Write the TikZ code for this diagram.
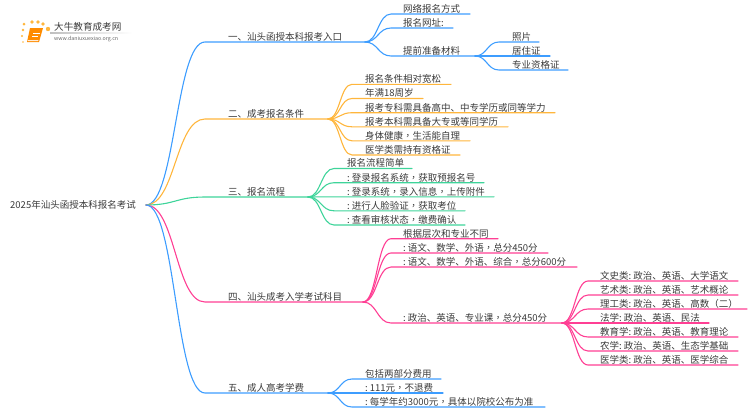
\documentclass[tikz,border=0pt]{standalone}
\usepackage{fontspec}
\setmainfont{Noto Sans CJK SC}
\newfontfamily\tcfont{Noto Sans CJK TC}
\usetikzlibrary{calc}
\definecolor{cblue}{HTML}{3D9DFF}
\definecolor{corange}{HTML}{FFB63C}
\definecolor{cgreen}{HTML}{3ED49A}
\definecolor{cpink}{HTML}{FF3F94}
\definecolor{ctext}{HTML}{3A3A3A}
\tikzset{
  lbl/.style={anchor=base west,inner sep=0pt,font=\fontsize{9.5}{11}\selectfont,text=ctext},
  wire/.style={line width=1.1pt,line cap=round,line join=round},
}
\newcommand{\cln}{\makebox[4.6pt][l]{:}}
\newcommand{\cm}{{\tcfont ，}}
% \branch{parent}{name}{y}{line start x}{line end x}{text x}{colour}{text}
\newcommand{\branch}[8]{%
  \coordinate (#2) at (#4,#3);
  \coordinate (#2e) at (#5,#3);
  \node[lbl] (#2t) at (#6,#3-1.6) {#8};
  \draw[wire,#7] (#1) .. controls ($(#1)!0.5!(#2|-#1)$) and ($(#2)!0.5!(#1|-#2)$) .. (#2) -- (#2e);
}
\begin{document}
\begin{tikzpicture}[x=1pt,y=-1pt]
\useasboundingbox (0,0) rectangle (750,410);
% logo
\foreach \px/\py/\pr in {24/24/1.5,32/22/1.9,38/22/1.9,43/24/1.9,48/29/2.2,23/30/1.3,22/36/1.1,23/42/0.9}
  \fill[corange] (\px,\py) circle (\pr);
\fill[orange!90!yellow] (30,28) -- (43,28) -- (39,42) -- (27,42) -- cycle;
\draw[white,line width=0.5pt] (33,33) -- (40,33) (32,36) -- (38,36);
\fill[white!85!orange] (28,40) -- (38.5,40) -- (38,41) -- (27.6,41) -- cycle;
\node[anchor=base west,inner sep=0pt,font=\fontsize{9.6}{11}\selectfont,text=ctext] (logot) at (54,30) {大牛教育成考网};
\node[anchor=base west,inner sep=0pt,font=\fontsize{5.3}{6}\selectfont,text=black!60] (logou) at (54,40.5) {www.daniuxuexiao.org.cn};
\shade[left color=black!25,right color=white] (50,32.8) rectangle (132,33.4);
% root
\node[lbl] (root) at (10,208) {2025年汕头函授本科报名考试};
\coordinate (r) at (146,205);
% level 1
\branch{r}{a}{42}{205}{365}{228}{cblue}{一、汕头函授本科报考入口}
\branch{r}{b}{119}{205}{328}{228}{corange}{二、成考报名条件}
\branch{r}{c}{197}{205}{308}{228}{cgreen}{三、报名流程}
\branch{r}{d}{302}{205}{363}{228}{cpink}{四、汕头成考入学考试科目}
\branch{r}{e}{393}{205}{328}{228}{cblue}{五、成人高考学费}
% group 1
\branch{ae}{a1}{14}{391}{470}{403}{cblue}{网络报名方式}
\branch{ae}{a2}{28}{391}{453}{403}{cblue}{报名网址:}
\branch{ae}{a3}{56}{391}{475}{403}{cblue}{提前准备材料}
\branch{a3e}{a31}{42}{499}{539}{512}{cblue}{照片}
\branch{a3e}{a32}{56}{499}{550}{512}{cblue}{居住证}
\branch{a3e}{a33}{70}{499}{568}{512}{cblue}{专业资格证}
% group 2
\branch{be}{b1}{84.3}{352}{451}{365}{corange}{报名条件相对宽松}
\branch{be}{b2}{98.5}{352}{423}{365}{corange}{年满18周岁}
\branch{be}{b3}{112.7}{352}{555}{365}{corange}{报考专科需具备高中、中专学历或同等学力}
\branch{be}{b4}{126.8}{352}{508}{365}{corange}{报考本科需具备大专或等同学历}
\branch{be}{b5}{140.8}{352}{470}{365}{corange}{身体健康\cm 生活能自理}
\branch{be}{b6}{155}{352}{460}{365}{corange}{医学类需持有资格证}
% group 3
\branch{ce}{c1}{168.5}{334}{412}{347}{cgreen}{报名流程简单}
\branch{ce}{c2}{182.7}{334}{484}{347}{cgreen}{\cln 登录报名系统\cm 获取预报名号}
\branch{ce}{c3}{196.8}{334}{494}{347}{cgreen}{\cln 登录系统\cm 录入信息\cm 上传附件}
\branch{ce}{c4}{210.8}{334}{465}{347}{cgreen}{\cln 进行人脸验证\cm 获取考位}
\branch{ce}{c5}{225}{334}{465}{347}{cgreen}{\cln 查看审核状态\cm 缴费确认}
% group 4
\branch{de}{d1}{238.7}{391}{498}{403}{cpink}{根据层次和专业不同}
\branch{de}{d2}{253}{391}{548}{403}{cpink}{\cln 语文、数学、外语\cm 总分450分}
\branch{de}{d3}{267}{391}{577}{403}{cpink}{\cln 语文、数学、外语、综合\cm 总分600分}
\branch{de}{d4}{323}{391}{562}{403}{cpink}{\cln 政治、英语、专业课\cm 总分450分}
\branch{d4e}{d41}{281}{588}{738}{600}{cpink}{文史类\cln 政治、英语、大学语文}
\branch{d4e}{d42}{295}{588}{738}{600}{cpink}{艺术类\cln 政治、英语、艺术概论}
\branch{d4e}{d43}{309}{588}{747}{600}{cpink}{理工类\cln 政治、英语、高数{\tcfont （}二{\tcfont ）}}
\branch{d4e}{d44}{323}{588}{709}{600}{cpink}{法学\cln 政治、英语、民法}
\branch{d4e}{d45}{337}{588}{738}{600}{cpink}{教育学\cln 政治、英语、教育理论}
\branch{d4e}{d46}{351}{588}{738}{600}{cpink}{农学\cln 政治、英语、生态学基础}
\branch{d4e}{d47}{365}{588}{738}{600}{cpink}{医学类\cln 政治、英语、医学综合}
% group 5
\branch{ee}{e1}{379}{352}{441}{365}{cblue}{包括两部分费用}
\branch{ee}{e2}{393}{352}{443}{365}{cblue}{\cln 111元\cm 不退费}
\branch{ee}{e3}{407}{352}{545}{365}{cblue}{\cln 每学年约3000元\cm 具体以院校公布为准}
\end{tikzpicture}
\end{document}
